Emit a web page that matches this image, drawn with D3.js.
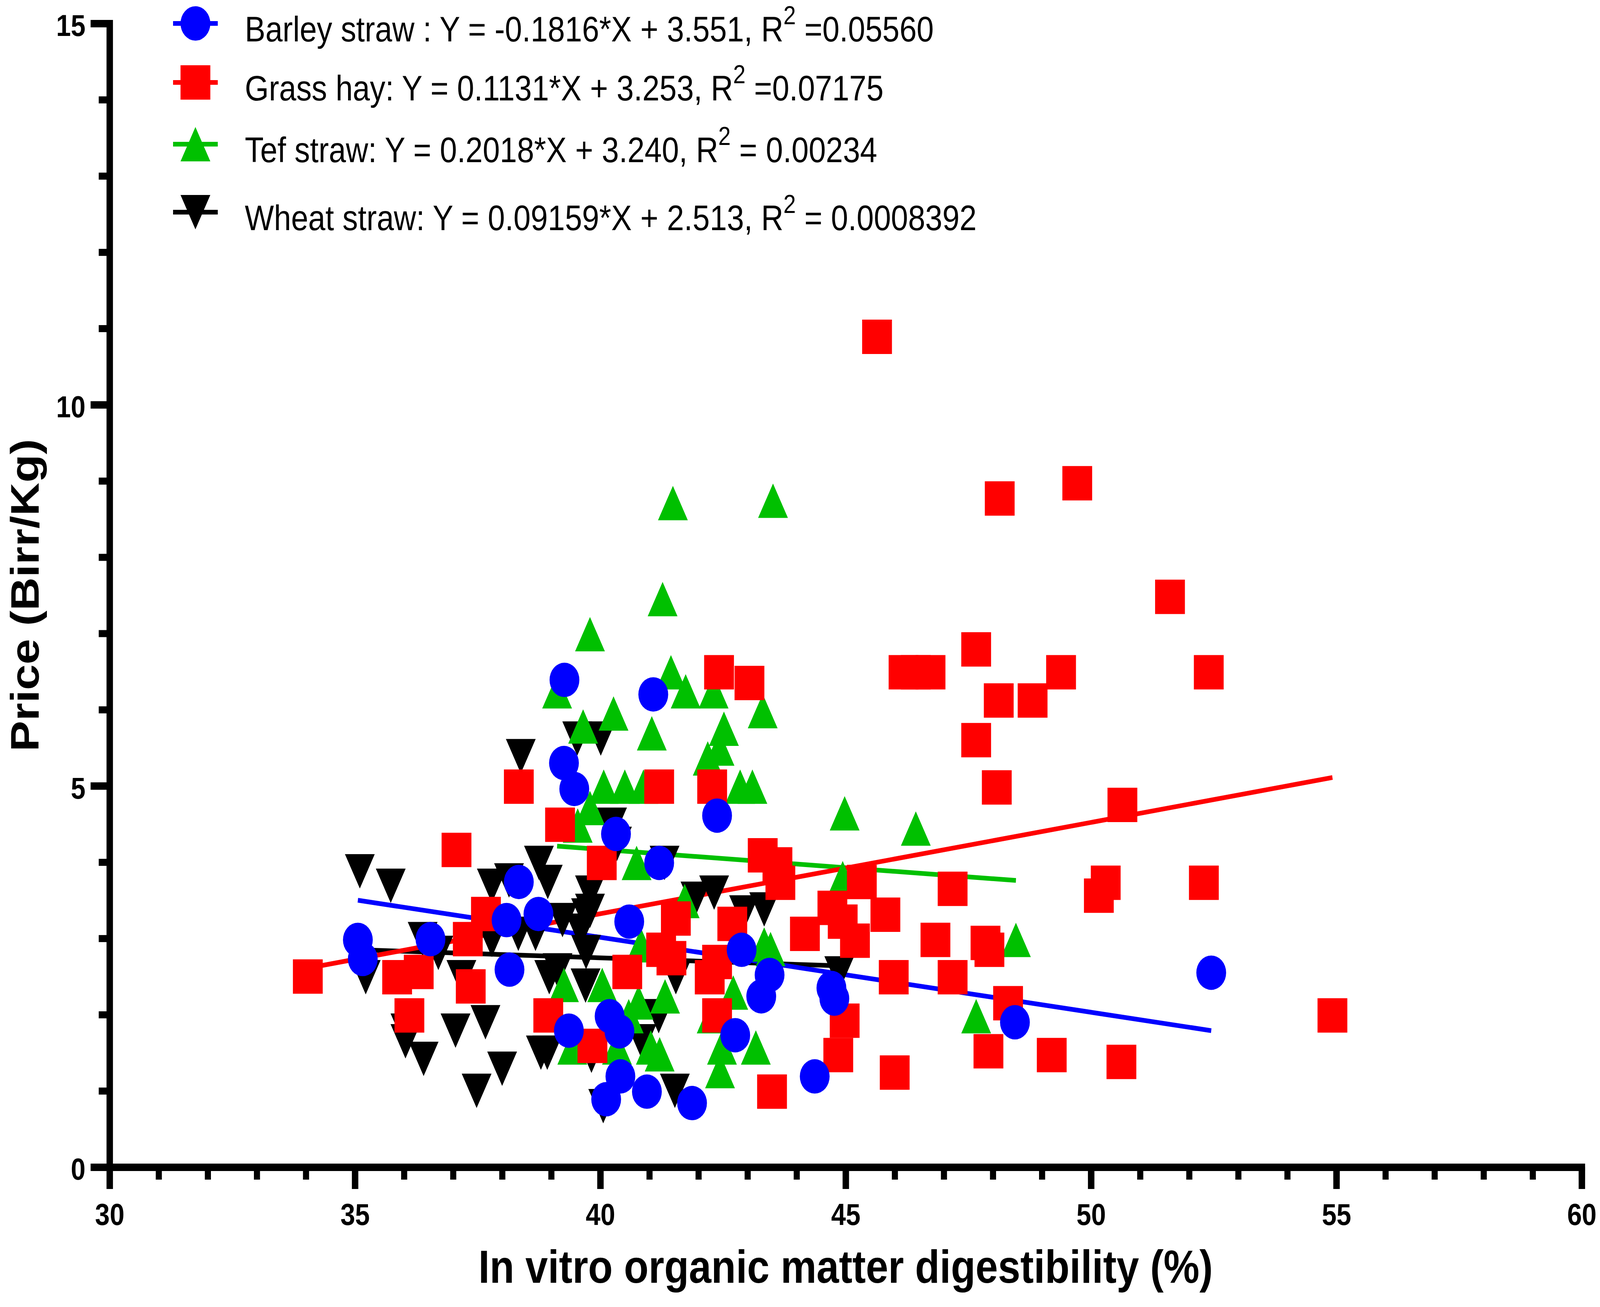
<!DOCTYPE html>
<html><head><meta charset="utf-8">
<script src="https://cdn.jsdelivr.net/npm/d3@7"></script>
<style>html,body{margin:0;padding:0;background:#fff;overflow:hidden}svg{display:block;width:100vw;height:100vh}</style>
</head><body>
<svg id="chart" viewBox="0 0 4724 3345" preserveAspectRatio="none"></svg>
<script>
// ---- data (x = IVOMD %, y = price Birr/Kg) ----
const barley = [
[35.06,2.98],[35.16,2.73],[36.54,2.99],[38.09,3.24],[38.34,3.74],[38.15,2.59],[38.74,3.32],
[39.27,6.39],[39.26,5.30],[39.47,4.96],[39.36,1.79],[40.32,4.37],[40.59,3.22],[40.19,1.98],
[40.39,1.78],[40.41,1.19],[40.12,0.89],[40.95,0.99],[41.87,0.84],[41.08,6.20],[41.20,3.99],
[42.38,4.61],[42.88,2.85],[42.75,1.73],[43.28,2.24],[43.45,2.52],[44.37,1.19],[44.71,2.35],
[44.77,2.21],[48.45,1.90],[52.45,2.55]];
const grassHay = [
[34.04,2.50],[35.86,2.49],[36.11,1.99],[36.30,2.56],[37.07,4.16],[37.30,2.99],[37.36,2.37],
[37.67,3.32],[38.34,4.99],[39.18,4.49],[38.94,1.99],[39.84,1.59],[40.03,3.99],[40.55,2.56],
[41.20,4.99],[41.24,2.85],[41.45,2.74],[41.54,3.26],[42.28,4.99],[42.42,6.49],[42.38,2.69],
[42.23,2.49],[42.38,1.99],[42.69,3.19],[43.04,6.35],[43.31,4.09],[43.61,3.97],[43.67,3.73],
[43.50,0.99],[44.17,3.06],[44.73,3.40],[44.94,3.22],[45.19,2.97],[44.98,1.92],[44.85,1.47],
[45.33,3.74],[45.64,10.89],[45.81,3.31],[45.98,2.49],[46.00,1.24],[46.18,6.49],[46.43,6.49],
[46.73,6.49],[46.83,2.98],[47.18,3.65],[47.18,2.49],[47.66,6.79],[47.66,5.60],[47.85,2.94],
[47.93,2.85],[47.91,1.52],[48.12,6.12],[48.14,8.77],[48.08,4.98],[48.31,2.15],[48.81,6.12],
[49.20,1.47],[49.39,6.49],[49.72,8.97],[50.16,3.56],[50.30,3.73],[50.64,4.75],[50.62,1.38],
[51.61,7.48],[52.30,3.73],[52.40,6.49],[54.92,1.99]];
const tefStraw = [
[39.79,6.99],[39.12,6.24],[41.44,6.49],[41.74,6.24],[42.31,6.24],[43.31,5.98],[40.27,5.95],
[39.65,5.78],[41.05,5.69],[42.52,5.75],[42.19,5.36],[42.43,5.49],[40.07,4.99],[40.50,4.99],
[40.88,4.99],[42.85,4.99],[43.10,4.99],[39.79,4.71],[39.54,4.48],[40.74,3.99],[41.72,3.49],
[41.27,7.45],[41.48,8.71],[43.52,8.74],[44.98,4.64],[46.43,4.44],[44.94,3.79],[47.66,1.98],
[48.47,2.98],[43.34,2.92],[43.47,2.86],[40.83,2.91],[39.26,2.39],[40.04,2.39],[41.32,2.24],
[42.71,2.29],[40.78,2.16],[40.58,1.98],[42.27,1.98],[39.43,1.57],[40.34,1.57],[41.03,1.57],
[41.21,1.48],[42.48,1.57],[42.44,1.26],[43.17,1.57]];
const wheatStraw = [
[35.10,3.88],[35.73,3.69],[35.22,2.49],[36.38,2.99],[36.70,2.81],[37.17,2.49],[36.03,1.79],
[36.03,1.65],[36.40,1.42],[37.05,1.79],[37.66,1.90],[38.00,1.29],[37.48,1.00],[38.14,3.76],
[37.79,3.69],[38.75,3.99],[38.93,3.74],[38.33,3.06],[38.68,3.06],[37.79,2.98],[39.23,3.24],
[39.71,2.82],[39.79,3.60],[39.79,3.36],[38.96,2.49],[39.70,2.38],[38.79,1.50],[38.92,1.50],
[39.82,1.46],[38.38,5.39],[39.53,5.62],[40.01,5.62],[40.24,4.49],[40.34,4.24],[41.31,3.99],
[42.32,3.60],[41.94,3.52],[41.52,1.00],[40.06,0.80],[41.19,1.98],[40.84,1.65],[41.54,2.49],
[43.34,3.38],[42.93,3.34],[39.13,2.58],[39.71,3.30],[39.60,3.10],[44.87,2.54]];

// fitted regression line end points as drawn
const barleyFit = [[35.06,3.50],[52.45,1.79]];
const grassFit  = [[34.04,2.61],[54.92,5.11]];
const tefFit    = [[39.12,4.21],[48.47,3.76]];
const wheatFit  = [[35.10,2.85],[44.87,2.64]];

const seriesNames = ["Barley straw : Y = -0.1816*X + 3.551, R", "Grass hay: Y = 0.1131*X + 3.253, R",
                     "Tef straw: Y = 0.2018*X + 3.240, R", "Wheat straw: Y = 0.09159*X + 2.513, R"];
const seriesTails = [" =0.05560", " =0.07175", " = 0.00234", " = 0.0008392"];

const xMajorTicks = [30,35,40,45,50,55,60];
const xMinorTicks = d3.range(30,61,1);
const yMajorTicks = [0,5,10,15];
const yMinorTicks = d3.range(0,16,1);

const xTitle = "In vitro organic matter digestibility (%)";
const yTitle = "Price (Birr/Kg)";

// ---- drawing ----
const FONT = "Arial, 'Liberation Sans', Helvetica, sans-serif";
const svg = d3.select("#chart");
svg.append("rect").attr("width",4724).attr("height",3345).attr("fill","#fff");

const x = d3.scaleLinear().domain([30,60]).range([323.5,4670]);
const y = d3.scaleLinear().domain([0,15]).range([2987,60]);

const S = 44; // half marker size
const shapes = {
  circle: {draw(c){ c.moveTo(S,0); c.arc(0,0,S,0,2*Math.PI); }},
  square: {draw(c){ c.rect(-S,-S,2*S,2*S); }},
  up:     {draw(c){ c.moveTo(0,-S); c.lineTo(S,S); c.lineTo(-S,S); c.closePath(); }},
  down:   {draw(c){ c.moveTo(0,S); c.lineTo(S,-S); c.lineTo(-S,-S); c.closePath(); }}
};

const series = [
  {data: barley,    fit: barleyFit, color:"#0000FF", shape:"circle"},
  {data: grassHay,  fit: grassFit,  color:"#FF0000", shape:"square"},
  {data: tefStraw,  fit: tefFit,    color:"#00C000", shape:"up"},
  {data: wheatStraw,fit: wheatFit,  color:"#000000", shape:"down"}
];

// axes
const ax = svg.append("g").attr("transform",`translate(0,${y(0)})`);
ax.append("g").call(d3.axisBottom(x).tickValues(xMinorTicks).tickSize(32).tickFormat(""))
  .call(g=>g.select(".domain").remove())
  .call(g=>g.selectAll("line").attr("stroke","#000").attr("stroke-width",18));
ax.append("g").call(d3.axisBottom(x).tickValues(xMajorTicks).tickSize(56).tickSizeOuter(0).tickPadding(37))
  .call(g=>g.select(".domain").attr("stroke","#000").attr("stroke-width",19).attr("stroke-linecap","square"))
  .call(g=>g.selectAll("line").attr("stroke","#000").attr("stroke-width",19))
  .call(g=>g.selectAll("text").attr("font-family",FONT).attr("font-size",78).attr("font-weight","bold").attr("fill","#000"));

const ay = svg.append("g").attr("transform",`translate(${x(30)},0)`);
ay.append("g").call(d3.axisLeft(y).tickValues(yMinorTicks).tickSize(32).tickFormat(""))
  .call(g=>g.select(".domain").remove())
  .call(g=>g.selectAll("line").attr("stroke","#000").attr("stroke-width",18));
ay.append("g").call(d3.axisLeft(y).tickValues(yMajorTicks).tickSize(56).tickSizeOuter(0).tickPadding(15))
  .call(g=>g.select(".domain").attr("stroke","#000").attr("stroke-width",19).attr("stroke-linecap","square"))
  .call(g=>g.selectAll("line").attr("stroke","#000").attr("stroke-width",19))
  .call(g=>g.selectAll("text").attr("font-family",FONT).attr("font-size",78).attr("font-weight","bold")
            .attr("fill","#000").attr("dy","0.41em"));

// titles
svg.append("text").attr("x",(x(30)+x(60))/2).attr("y",3283).attr("text-anchor","middle")
  .attr("font-family",FONT).attr("font-size",119).attr("font-weight","bold").text(xTitle);
svg.append("text").attr("transform",`translate(114,${(y(0)+y(15))/2}) rotate(-90)`).attr("text-anchor","middle")
  .attr("font-family",FONT).attr("font-size",118).attr("font-weight","bold").text(yTitle);

// fit lines
const line = d3.line().x(d=>x(d[0])).y(d=>y(d[1]));
[...series].reverse().forEach(s=>{
  svg.append("path").attr("d",line(s.fit)).attr("fill","none").attr("stroke",s.color).attr("stroke-width",12);
});

// markers (last data set drawn first)
[...series].reverse().forEach(s=>{
  svg.append("g").selectAll("path").data(s.data).join("path")
    .attr("transform",d=>`translate(${x(d[0])},${y(d[1])})`)
    .attr("d",d3.symbol().type(shapes[s.shape]))
    .attr("fill",s.color);
});

// legend
const legY = [60, 211, 369, 543];
series.forEach((s,i)=>{
  const g = svg.append("g").attr("transform",`translate(577,${legY[i]})`);
  g.append("line").attr("x1",-66).attr("x2",66).attr("stroke",s.color).attr("stroke-width",12);
  g.append("path").attr("d",d3.symbol().type(shapes[s.shape])()).attr("fill",s.color);
  const t = g.append("text").attr("x",146).attr("y",46).attr("font-family",FONT).attr("font-size",91).attr("fill","#000");
  t.append("tspan").text(seriesNames[i]);
  t.append("tspan").attr("font-size",66).attr("dy",-44).text("2");
  t.append("tspan").attr("dy",44).text(seriesTails[i]);
});
</script>
</body></html>
